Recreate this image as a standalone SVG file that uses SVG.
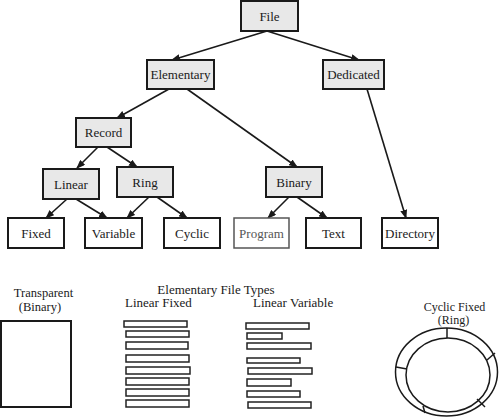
<svg xmlns="http://www.w3.org/2000/svg" width="500" height="417" viewBox="0 0 500 417" font-family="'Liberation Serif', 'DejaVu Serif', serif">
<style>
.n rect{fill:#e8e8e8;stroke:#1a1a1a;stroke-width:2}
.w rect{fill:#fff;stroke:#1a1a1a;stroke-width:2}
text{font-family:'Liberation Serif','DejaVu Serif',serif;font-size:13px;fill:#1a1a1a}
.c{text-anchor:middle}
#edges line{stroke:#1a1a1a;stroke-width:1.6;marker-end:url(#ah)}
.bar{fill:#fff;stroke:#222;stroke-width:1.5}
.ring{fill:none;stroke:#1a1a1a;stroke-width:1.5}
</style>
<defs>
<marker id="ah" markerUnits="userSpaceOnUse" markerWidth="9" markerHeight="7" refX="8" refY="3.5" orient="auto">
<path d="M0,0 L9,3.5 L0,7 z" fill="#1a1a1a"/>
</marker>
</defs>
<rect width="500" height="417" fill="#fff"/>
<g id="edges">
<line x1="267" y1="31" x2="172" y2="60"/>
<line x1="267" y1="31" x2="359" y2="60"/>
<line x1="169" y1="89" x2="117" y2="118"/>
<line x1="187" y1="89" x2="297" y2="167"/>
<line x1="367" y1="89" x2="406" y2="218"/>
<line x1="98" y1="147" x2="77" y2="168"/>
<line x1="107" y1="147" x2="137" y2="167"/>
<line x1="67" y1="199" x2="46" y2="218"/>
<line x1="76" y1="199" x2="107" y2="218"/>
<line x1="149" y1="197" x2="127" y2="218"/>
<line x1="157" y1="197" x2="187" y2="218"/>
<line x1="289" y1="197" x2="268" y2="218"/>
<line x1="297" y1="197" x2="327" y2="218"/>
</g>
<g id="file" class="n"><rect x="241" y="1" width="57" height="30"/><text class="c" x="269.5" y="20.5">File</text></g>
<g id="elementary" class="n"><rect x="147" y="60" width="67" height="29"/><text class="c" x="180.5" y="79">Elementary</text></g>
<g id="dedicated" class="n"><rect x="323" y="60" width="61" height="29"/><text class="c" x="353.5" y="79">Dedicated</text></g>
<g id="record" class="n"><rect x="76" y="118" width="55" height="29"/><text class="c" x="103.5" y="137">Record</text></g>
<g id="linear" class="n"><rect x="43" y="169" width="56" height="30"/><text class="c" x="71" y="188.5">Linear</text></g>
<g id="ring" class="n"><rect x="117" y="167" width="56" height="30"/><text class="c" x="145" y="186.5">Ring</text></g>
<g id="binary" class="n"><rect x="266" y="167" width="56" height="30"/><text class="c" x="294" y="186.5">Binary</text></g>
<g id="fixed" class="w"><rect x="8" y="218" width="56" height="30"/><text class="c" x="36" y="237.5">Fixed</text></g>
<g id="variable" class="w"><rect x="85" y="218" width="57" height="30"/><text class="c" x="113.5" y="237.5">Variable</text></g>
<g id="cyclic" class="w"><rect x="164" y="218" width="56" height="30"/><text class="c" x="192" y="237.5">Cyclic</text></g>
<g id="program"><rect x="234" y="218" width="55" height="30" fill="#fff" stroke="#555" stroke-width="1.5"/><text class="c" x="261.5" y="237.5" style="fill:#555">Program</text></g>
<g id="text" class="w"><rect x="306" y="218" width="55" height="30"/><text class="c" x="333.5" y="237.5">Text</text></g>
<g id="directory" class="w"><rect x="382" y="218" width="56" height="30"/><text class="c" x="410" y="237.5">Directory</text></g>

<text class="c" x="216" y="294">Elementary File Types</text>
<text class="c" x="43.5" y="297" style="font-size:12.5px">Transparent</text>
<text class="c" x="40" y="310.5" style="font-size:12.5px">(Binary)</text>
<rect x="1" y="321" width="70" height="86" fill="#fff" stroke="#1a1a1a" stroke-width="2"/>
<text x="125" y="307">Linear Fixed</text>
<text x="253" y="307">Linear Variable</text>
<g>
<rect class="bar" x="124" y="321" width="63" height="6"/>
<rect class="bar" x="126" y="331" width="63" height="6"/>
<rect class="bar" x="126" y="342" width="62" height="7"/>
<rect class="bar" x="126" y="355" width="63" height="7"/>
<rect class="bar" x="126" y="367" width="64" height="7"/>
<rect class="bar" x="126" y="378" width="63" height="7"/>
<rect class="bar" x="126" y="389" width="63" height="7"/>
<rect class="bar" x="126" y="400" width="63" height="7"/>
</g>
<g>
<rect class="bar" x="246" y="323" width="63" height="6"/>
<rect class="bar" x="247" y="333" width="35" height="6"/>
<rect class="bar" x="247" y="343" width="64" height="6"/>
<rect class="bar" x="247" y="358" width="53" height="5"/>
<rect class="bar" x="248" y="368" width="64" height="6"/>
<rect class="bar" x="247" y="379" width="44" height="7"/>
<rect class="bar" x="247" y="391" width="53" height="6"/>
<rect class="bar" x="248" y="402" width="63" height="6"/>
</g>
<text class="c" x="454.5" y="311" style="font-size:12px">Cyclic Fixed</text>
<text class="c" x="453.5" y="324" style="font-size:12px">(Ring)</text>
<g>
<ellipse class="ring" cx="446.5" cy="372" rx="51" ry="44"/>
<ellipse class="ring" cx="448" cy="375" rx="42" ry="37"/>
<line class="ring" x1="447" y1="328" x2="447" y2="338"/>
<line class="ring" x1="495" y1="353" x2="487" y2="360"/>
<line class="ring" x1="396" y1="367" x2="407" y2="369"/>
<line class="ring" x1="477" y1="399" x2="485" y2="407"/>
<line class="ring" x1="423" y1="406" x2="425" y2="413"/>
</g>
</svg>
